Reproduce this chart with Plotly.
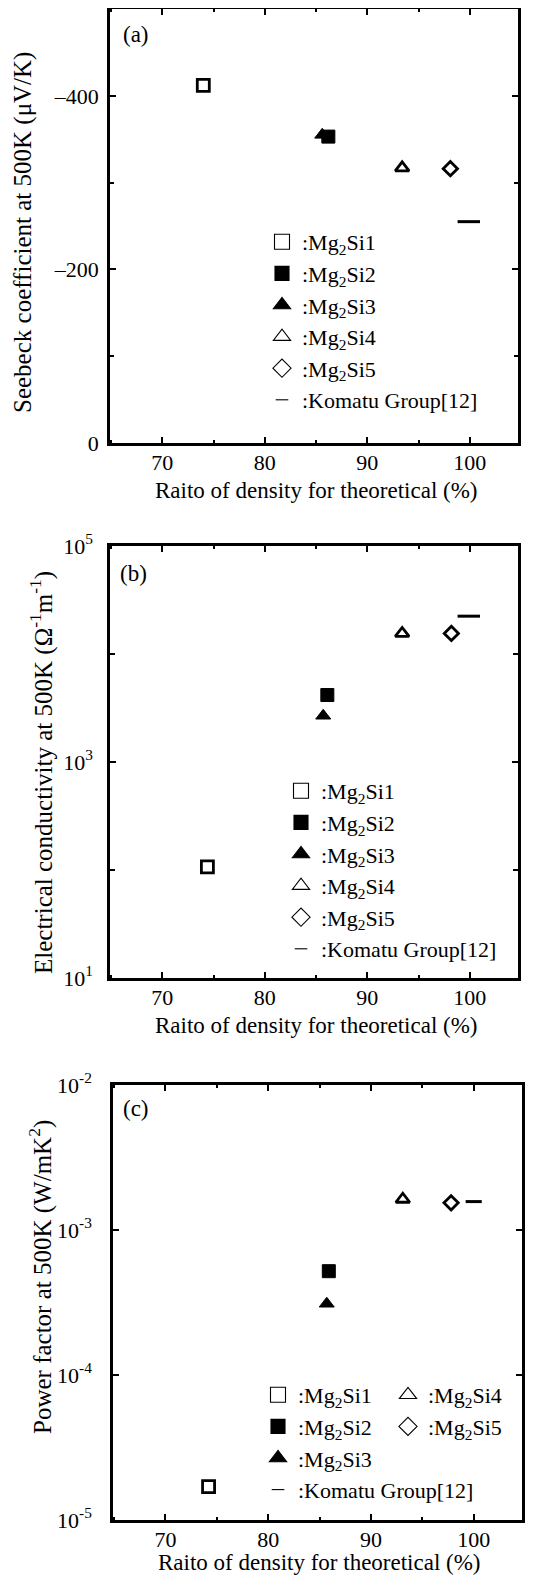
import plotly.graph_objects as go

# ---------------- data ----------------
samples = ["Mg<sub>2</sub>Si1", "Mg<sub>2</sub>Si2", "Mg<sub>2</sub>Si3", "Mg<sub>2</sub>Si4", "Mg<sub>2</sub>Si5"]
komatu_name = "Komatu Group[12]"

# (a) Seebeck coefficient at 500K (uV/K)
seebeck_density = [74.0, 86.2, 85.6, 93.4, 98.1]
seebeck = [-412, -353, -355, -317, -316]
komatu_seebeck_density = [99.9]
komatu_seebeck = [-255]

# (b) Electrical conductivity at 500K (1/(Ohm m))
cond_density = [74.4, 86.1, 85.7, 93.4, 98.2]
conductivity = [107, 4170, 2680, 15500, 15500]
komatu_cond_density = [99.9]
komatu_cond = [22400]

# (c) Power factor at 500K (W/mK^2)
pf_density = [74.2, 85.9, 85.7, 93.1, 97.8]
power_factor = [1.7e-5, 5.2e-4, 3.1e-4, 1.63e-3, 1.54e-3]
komatu_pf_density = [100.0]
komatu_pf = [1.57e-3]

x_ticks = [70, 80, 90, 100]
a_tickvals = [-400, -200, 0]
a_ticktext = ["\u2013400", "\u2013200", "0"]
b_tickvals = [1e1, 1e3, 1e5]
b_ticktext = ["10<sup>1</sup>", "10<sup>3</sup>", "10<sup>5</sup>"]
b_minorvals = [1e2, 1e4]
c_tickvals = [1e-5, 1e-4, 1e-3, 1e-2]
c_ticktext = ["10<sup>-5</sup>", "10<sup>-4</sup>", "10<sup>-3</sup>", "10<sup>-2</sup>"]

# ---------------- style ----------------
OFF = 8                       # page body margin
W, H = 543 - OFF, 1576 - OFF  # figure size so that it fills the window
FONT = "Liberation Serif"
symbols = ["square-open", "square", "triangle-up", "triangle-up-open", "diamond-open"]
data_sizes = [12, 13, 13, 12, 11]
leg_sizes = [15, 14, 15, 15, 14]
komatu_sizes = [16, 16, 11.5]

def px_x(p):
    return (p - OFF) / W

def px_y(p):
    return 1 - (p - OFF) / H

panels = [
    dict(x0=110, x1=518, y0=9, y1=443),
    dict(x0=110, x1=518, y0=546, y1=978),
    dict(x0=113, x1=522, y0=1085, y1=1520),
]

fig = go.Figure()

def add_panel(idx, dens, vals, kx, ky, legends):
    xa = "x" if idx == 1 else f"x{idx}"
    ya = "y" if idx == 1 else f"y{idx}"
    for i, name in enumerate(samples):
        sym = symbols[i]
        lw = 2.8 if "open" in sym else 1
        fig.add_trace(go.Scatter(
            x=[dens[i]], y=[vals[i]], mode="markers", xaxis=xa, yaxis=ya,
            showlegend=False,
            marker=dict(symbol=sym, size=data_sizes[i], color="black",
                        line=dict(color="black", width=lw)),
        ))
    fig.add_trace(go.Scatter(
        x=kx, y=ky, mode="markers", xaxis=xa, yaxis=ya, showlegend=False,
        marker=dict(symbol="line-ew", size=komatu_sizes[idx - 1], color="black",
                    line=dict(color="black", width=3)),
    ))
    # legend entries
    for i, name in enumerate(samples):
        sym = symbols[i]
        fig.add_trace(go.Scatter(
            x=[None], y=[None], mode="markers", xaxis=xa, yaxis=ya,
            name=":" + name, legend=legends[i],
            marker=dict(symbol=sym, size=leg_sizes[i], color="black",
                        line=dict(color="black", width=1.1)),
        ))
    fig.add_trace(go.Scatter(
        x=[None], y=[None], mode="markers", xaxis=xa, yaxis=ya,
        name=":" + komatu_name, legend=legends[5],
        marker=dict(symbol="line-ew", size=9, color="black",
                    line=dict(color="black", width=1.1)),
    ))

add_panel(1, seebeck_density, seebeck, komatu_seebeck_density, komatu_seebeck, ["legend"] * 6)
add_panel(2, cond_density, conductivity, komatu_cond_density, komatu_cond, ["legend2"] * 6)
add_panel(3, pf_density, power_factor, komatu_pf_density, komatu_pf,
          ["legend3", "legend3", "legend3", "legend4", "legend4", "legend3"])

axis_common = dict(
    showline=True, linecolor="black", linewidth=2.5, mirror="ticks",
    ticks="inside", ticklen=6, tickwidth=2, tickcolor="black",
    showgrid=False, zeroline=False,
    tickfont=dict(family=FONT, size=22, color="black"),
)
minor_common = dict(ticks="inside", ticklen=4, tickwidth=1.5, tickcolor="black")

layout = dict(
    width=W, height=H,
    margin=dict(l=0, r=0, t=0, b=0, pad=0, autoexpand=False),
    paper_bgcolor="white", plot_bgcolor="white",
    font=dict(family=FONT, size=22, color="black"),
)

for k, p in enumerate(panels, start=1):
    sfx = "" if k == 1 else str(k)
    layout["xaxis" + sfx] = dict(
        axis_common, domain=[px_x(p["x0"]), px_x(p["x1"])],
        anchor="y" + sfx, range=[64.9, 104.7], tickvals=x_ticks,
        ticklabelstandoff=-2,
        minor=dict(minor_common, ticklen=3, dtick=5, tick0=0),
    )

layout["yaxis"] = dict(
    axis_common, domain=[px_y(panels[0]["y1"]), px_y(panels[0]["y0"])],
    anchor="x", range=[0, -500], tickvals=a_tickvals, ticktext=a_ticktext,
    ticklabelstandoff=4,
    minor=dict(minor_common, dtick=100, tick0=0),
)
layout["yaxis2"] = dict(
    axis_common, domain=[px_y(panels[1]["y1"]), px_y(panels[1]["y0"])],
    anchor="x2", type="log", range=[1, 5], tickvals=b_tickvals, ticktext=b_ticktext,
    ticklabelstandoff=10,
    minor=dict(minor_common, ticklen=5, tickvals=b_minorvals),
)
layout["yaxis3"] = dict(
    axis_common, domain=[px_y(panels[2]["y1"]), px_y(panels[2]["y0"])],
    anchor="x3", type="log", range=[-5, -2], tickvals=c_tickvals, ticktext=c_ticktext,
    ticklabelstandoff=14,
)

leg_common = dict(xanchor="left", yanchor="top", bgcolor="rgba(0,0,0,0)",
                  font=dict(family=FONT, size=22, color="black"),
                  itemsizing="trace", tracegroupgap=0)
layout["legend"] = dict(leg_common, x=px_x(262), y=px_y(221))
layout["legend2"] = dict(leg_common, x=px_x(281), y=px_y(770))
layout["legend3"] = dict(leg_common, x=px_x(258), y=px_y(1374))
layout["legend4"] = dict(leg_common, x=px_x(388), y=px_y(1374))

fig.update_layout(**layout)

ann = []
# panel labels
for lbl, (xx, yy) in zip(["(a)", "(b)", "(c)"], [(136, 34), (133, 573), (136, 1108)]):
    ann.append(dict(text=lbl, x=px_x(xx), y=px_y(yy), xref="paper", yref="paper",
                    showarrow=False, xanchor="center", yanchor="middle",
                    font=dict(family=FONT, size=23, color="black")))
# x titles
for yy, xc in [(490, 316), (1025, 316), (1562, 319)]:
    ann.append(dict(text="Raito of density for theoretical (%)", x=px_x(xc), y=px_y(yy),
                    xref="paper", yref="paper", showarrow=False,
                    xanchor="center", yanchor="middle",
                    font=dict(family=FONT, size=23, color="black")))
# y titles
ytitles = [
    ("Seebeck coefficient at 500K (\u03bcV/K)", 23, 233),
    ("Electrical conductivity at 500K (\u03a9<sup>-1</sup>m<sup>-1</sup>)", 41, 773),
    ("Power factor at 500K (W/mK<sup>2</sup>)", 40, 1277),
]
for txt, xx, yy in ytitles:
    ann.append(dict(text=txt, x=px_x(xx), y=px_y(yy), xref="paper", yref="paper",
                    showarrow=False, textangle=-90, xanchor="center", yanchor="middle",
                    font=dict(family=FONT, size=25, color="black")))
fig.update_layout(annotations=ann)

fig.write_html("out.html")
